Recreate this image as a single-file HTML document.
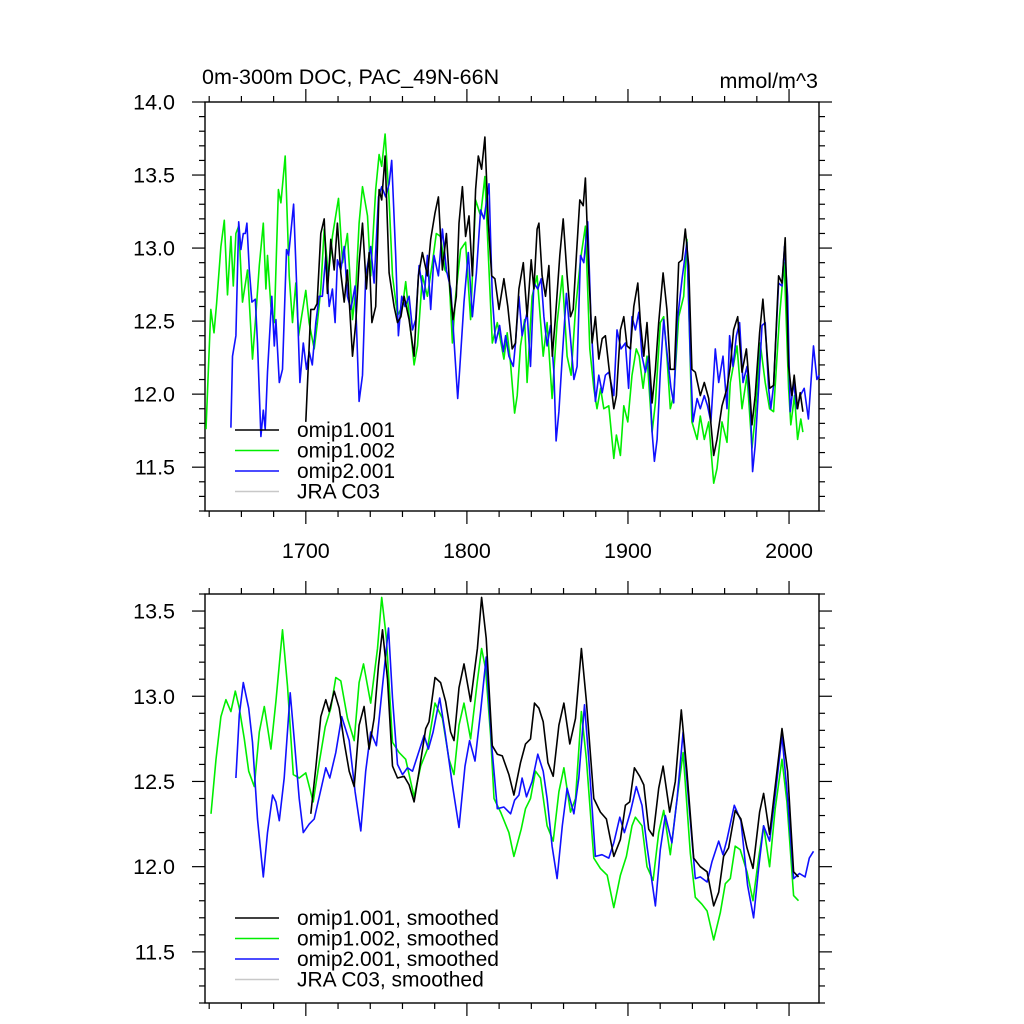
<!DOCTYPE html>
<html><head><meta charset="utf-8"><title>DOC chart</title>
<style>
html,body{margin:0;padding:0;background:#fff;}
svg{display:block;font-family:"Liberation Sans",Arial,sans-serif;}
</style></head>
<body>
<svg id="chart" width="1024" height="1024" viewBox="0 0 1024 1024" xmlns="http://www.w3.org/2000/svg">
<text x="202" y="84" font-size="21.5">0m-300m DOC, PAC_49N-66N</text>
<text x="818" y="88" font-size="21.5" text-anchor="end">mmol/m^3</text>
<g id="top"></g>
<g id="bot"></g>
</svg>
<script>
// ---------- data: top panel (annual) ----------
const topYearsGreen=[1638,1641,1643,1644.6,1647.3,1649.4,1651.4,1653.5,1655,1656.6,1658.3,1660.7,1663.8,1666.9,1668.6,1671.1,1673.6,1675.2,1676.2,1678.3,1680.4,1683,1684.5,1687.2,1689.7,1691.7,1693.8,1695.5,1697.5,1700,1702,1705.2,1707.2,1709.3,1711.4,1714,1716.5,1720.3,1722.8,1725.8,1729,1731,1733.1,1735.2,1738.3,1740.3,1743.4,1745.5,1747.1,1749.2,1751.7,1753.8,1756.9,1760,1762,1764.1,1767.2,1769.3,1772.4,1775.5,1778.6,1781,1783.7,1786.4,1788.9,1791,1793,1796.1,1799.2,1802.3,1805.4,1808.5,1811.2,1813.7,1815.8,1818.9,1823,1825,1827,1829.6,1831.2,1833.3,1835.8,1837.4,1840.5,1843.6,1847.4,1849.8,1852.9,1856,1859.2,1862.2,1864.7,1867.4,1870.5,1873.6,1876.3,1878.8,1880.8,1883,1885,1888.1,1891.2,1892.8,1895.3,1897.4,1899.9,1902.5,1905.2,1907,1909.4,1911.8,1915,1917,1920.1,1922.2,1924.2,1926.3,1928.4,1931.5,1934.6,1936.6,1939.7,1942.9,1944.9,1947.4,1950.1,1953.2,1955.3,1958.4,1961.5,1963.5,1967.7,1970.8,1973.9,1977,1979,1982.1,1985.2,1987.9,1990.4,1994.1,1997,1999.7,2001.1,2003.4,2005.3,2007.3,2008.6];
const topValsGreen=[11.76,12.58,12.42,12.62,13.01,13.19,12.68,13.08,12.74,13.10,13.15,12.63,12.85,12.24,12.49,12.88,13.17,12.72,12.95,12.6,12.49,13.4,13.31,13.63,12.81,12.49,12.76,12.4,12.54,12.71,12.49,12.31,12.49,12.72,13.13,12.81,13.08,13.34,12.90,13.1,12.51,12.72,13.17,13.42,13.22,12.81,13.4,13.64,13.56,13.78,13.33,12.81,12.54,12.6,12.77,12.54,12.2,12.33,12.81,12.67,12.9,13.1,13.08,12.85,12.81,12.35,12.67,12.99,13.04,12.51,13.33,13.22,13.49,12.85,12.35,12.49,12.24,12.42,12.22,11.87,11.99,12.33,12.51,12.08,12.67,12.81,12.26,12.49,11.97,12.49,12.81,12.26,12.13,12.58,12.92,13.15,12.31,12.04,11.9,12.04,11.9,11.92,11.56,11.72,11.58,11.92,11.81,12.13,12.31,12.26,12.04,12.26,11.74,11.94,12.49,12.53,12.26,11.9,11.99,12.53,12.67,13.06,11.81,11.69,11.85,11.69,11.81,11.39,11.49,11.81,11.67,12.08,12.33,11.9,12.13,11.63,11.85,12.35,12.08,11.9,11.88,12.53,12.9,12.04,11.79,11.99,11.69,11.83,11.74];
const topYearsBlack=[1700,1703.1,1705.2,1707,1709.3,1711.4,1713.4,1715.5,1717.6,1719.6,1721.7,1723.8,1725.8,1729,1731,1733.1,1735.2,1737.6,1739.3,1741,1743.4,1745.5,1747.1,1749.2,1751.7,1754.8,1756.9,1759,1761,1764.1,1767.2,1769.9,1772.4,1775.5,1777.5,1780.2,1782.3,1784.8,1787.3,1789.3,1791.4,1793.4,1795.1,1797.2,1799.2,1801.3,1803.4,1805.4,1807.1,1809.1,1811.2,1813.3,1815.4,1817.4,1819.9,1823,1825.4,1828.1,1830.2,1832.3,1835,1837.4,1839.9,1841.6,1843.6,1844.7,1846.7,1848.8,1850.9,1853,1855,1857.7,1859.8,1862.2,1864.3,1866,1868,1870.1,1872.2,1873.6,1875.7,1877.7,1879.8,1881.9,1884,1886,1888.1,1891.2,1892.8,1895.3,1897.4,1899.4,1901.5,1903.6,1906.1,1907.7,1909.8,1911.8,1915,1917,1919.1,1921.8,1924.2,1926.3,1928.8,1931.5,1933.6,1935.6,1937.7,1939.7,1941.8,1944.9,1947.4,1950.1,1953.2,1955.3,1958.4,1961.5,1963.5,1965.6,1968.1,1970.8,1973.5,1975.5,1977,1979,1981.7,1983.8,1985.9,1987.9,1990.4,1993.5,1995.6,1997.6,1999.7,2001.8,2003.2,2005.3,2006.9,2008.6];
const topValsBlack=[11.81,12.58,12.58,12.62,13.1,13.2,12.69,13.06,12.85,13.17,12.83,12.63,12.85,12.26,12.49,12.9,13.17,12.72,12.97,12.49,12.6,13.4,13.33,13.63,12.83,12.6,12.49,12.53,12.67,12.51,12.26,12.81,12.97,12.81,13.06,13.24,13.35,12.85,13.1,12.74,12.51,12.67,13.17,13.42,13.08,13.22,12.81,13.4,13.63,13.54,13.76,13.17,12.81,12.79,12.58,12.79,12.6,12.31,12.35,12.72,12.9,12.53,12.92,12.72,13.13,13.17,12.81,12.67,12.88,12.26,12.53,12.95,13.2,12.81,12.53,12.58,12.95,13.33,13.29,13.48,12.83,12.35,12.53,12.24,12.38,12.4,12.19,11.9,11.99,12.44,12.53,12.33,12.31,12.6,12.76,12.49,12.26,12.49,11.94,12.17,12.49,12.83,12.58,12.17,12.17,12.9,12.92,13.13,12.88,12.17,12.15,11.99,12.08,11.97,11.58,11.69,11.92,12.04,12.19,12.44,12.53,12.15,12.31,12.04,11.79,11.99,12.42,12.65,12.35,12.04,12.06,12.81,12.76,13.07,12.19,11.99,12.13,11.9,12.01,11.88];
const topYearsBlue=[1653.5,1654.5,1656.6,1658.3,1659.7,1661.2,1662.4,1663.4,1664.9,1666.5,1668.6,1670,1672.1,1673.6,1674.8,1676.2,1678.9,1680.4,1681.4,1683.5,1685.5,1688,1689.3,1692.4,1694.4,1696.3,1698.4,1700.4,1702.1,1704,1706.2,1708.3,1710.3,1712.4,1714.5,1716.5,1718.2,1719.6,1721.7,1723.8,1725.8,1727.9,1730.6,1733.1,1735.2,1737.2,1740.3,1742.4,1745.1,1747.1,1749.6,1751.7,1753.3,1755.8,1757.5,1759.5,1761.6,1764.1,1766.2,1768.2,1770.3,1773.4,1775.5,1777.5,1779.6,1782.3,1784.8,1787.3,1790,1792.6,1794.3,1795.5,1798.2,1800.9,1803.4,1805.9,1808.5,1810.6,1813.7,1815.8,1817.8,1820.3,1822.6,1824,1826.1,1828.8,1830.2,1832.3,1834.3,1837.4,1839.5,1841.6,1844,1846.1,1847.8,1849.8,1851.9,1854,1855.4,1857.1,1859.2,1861.8,1864.3,1866.4,1868.4,1870.5,1872.6,1875,1877.1,1879.8,1881.9,1884,1886,1888.1,1891.2,1893.2,1895.7,1898.4,1900.4,1902.5,1904.6,1906.7,1908.7,1910.8,1912.9,1915,1916.4,1918.1,1920.1,1922.2,1924.2,1926.7,1928.4,1930.5,1933.6,1936.6,1938.7,1940.4,1942.9,1944.9,1947.4,1949.4,1951.5,1954.2,1956.3,1959,1961.5,1963.1,1965.2,1967.3,1969.3,1971.4,1973.9,1976,1977.4,1979,1981.1,1983.2,1985.2,1987.3,1988.7,1990.4,1993.5,1995.6,1997.2,1999.1,2000.7,2002.8,2004.9,2006.9,2009.4,2012,2015.2,2017.3,2018.7];
const topValsBlue=[11.77,12.26,12.4,13.18,12.99,13.1,13.1,13.17,12.85,12.63,12.65,12.35,11.71,11.89,11.76,12.15,12.67,12.33,12.51,12.08,12.17,12.99,12.95,13.3,12.72,12.08,12.35,12.17,12.29,12.2,12.49,12.67,12.67,12.95,12.6,12.72,12.49,12.92,12.85,13.01,12.67,12.58,12.74,11.95,12.13,12.81,13.01,12.76,13.35,13.42,13.35,13.44,13.6,12.95,12.4,12.67,12.6,12.67,12.44,12.51,12.88,12.65,12.95,12.58,12.95,12.81,13.13,12.85,12.72,12.26,11.97,12.17,12.63,12.97,12.53,12.83,13.26,13.2,13.44,12.67,12.35,12.47,12.29,12.4,12.26,12.19,12.35,12.67,12.4,12.56,12.19,12.76,12.72,12.79,12.53,12.33,12.47,12.15,11.68,11.88,12.26,12.69,12.38,12.1,12.19,12.95,12.9,13.18,12.49,11.95,12.13,12.01,12.13,12.15,11.99,12.44,12.31,12.35,12.04,12.53,12.44,12.56,12.26,12.15,12.26,11.74,11.54,11.69,12.15,12.51,12.29,12.04,11.94,12.49,12.79,13.04,12.26,11.81,11.97,11.9,11.99,11.92,11.81,12.31,12.08,12.26,11.9,12.4,12.19,12.4,12.49,12.08,12.19,11.92,11.47,11.65,12.04,12.47,12.49,12.04,11.9,12.06,12.76,12.74,13.01,12.67,11.88,12.08,11.9,11.99,12.04,11.83,12.33,12.1,12.13];
// ---------- data: bottom panel (smoothed) ----------
const botYearsGreen=[1641.1,1644.2,1647.3,1650.4,1653.5,1656.2,1658.7,1661.8,1664.5,1668,1671.1,1674.2,1678.3,1681.4,1685.5,1688.6,1692.2,1695.9,1700,1704.6,1708.3,1712,1715.5,1718.6,1721.7,1725.9,1730,1733.1,1735.8,1740.3,1744.5,1747.1,1750,1753.8,1757.9,1762,1767.2,1771.3,1775.5,1780.2,1784.8,1788.9,1792,1795.1,1798.2,1802.3,1806.5,1809.1,1811.6,1814.7,1816.8,1820.9,1826.1,1829.2,1833.7,1836.4,1839.5,1842.6,1845.7,1849.8,1853.6,1857.1,1860.2,1864.3,1867.4,1871.1,1874.2,1878.8,1882.9,1887.1,1891.2,1895.3,1899,1902.5,1904.6,1908.7,1911.8,1915.6,1919.1,1922.2,1926.3,1930,1934.2,1938.7,1941.8,1945.9,1949.1,1953.2,1957.3,1960.4,1963.5,1966.6,1969.7,1973.9,1977.6,1981.1,1984.2,1987.9,1991.4,1995.6,1998.7,2002.8,2005.9];
const botValsGreen=[12.31,12.63,12.88,12.98,12.91,13.03,12.93,12.75,12.56,12.47,12.79,12.94,12.69,12.97,13.39,13.06,12.54,12.52,12.55,12.38,12.61,12.82,12.93,13.11,13.09,12.87,12.74,13.08,13.19,12.96,13.28,13.58,13.34,12.73,12.67,12.63,12.41,12.59,12.69,12.96,12.87,12.63,12.54,12.83,12.96,12.75,13.09,13.28,13.16,12.77,12.40,12.32,12.2,12.06,12.22,12.34,12.4,12.56,12.52,12.24,12.15,12.44,12.58,12.32,12.40,12.91,12.63,12.05,11.99,11.95,11.76,11.95,12.06,12.24,12.29,12.24,12.0,11.92,12.2,12.33,12.07,12.36,12.67,12.08,11.82,11.78,11.74,11.57,11.73,11.9,11.93,12.12,12.1,11.97,11.8,12.05,12.24,12.0,12.34,12.63,12.38,11.83,11.80];
const botYearsBlack=[1703.1,1706.2,1709.3,1712.4,1714.5,1717.6,1720.7,1723.8,1726.9,1730,1733.1,1736.2,1739.3,1742.4,1745.1,1747.6,1750.7,1753.8,1756.9,1761,1764.1,1767.2,1770.3,1774.4,1776.5,1780.2,1783.7,1786.8,1789.9,1792,1795.1,1798.2,1802.3,1806.5,1809.1,1812,1815.8,1818.9,1822,1826.1,1829.2,1833.3,1836.4,1839.5,1842,1844.7,1847.4,1850.3,1853.6,1857.1,1860.2,1863.9,1867.4,1871.1,1874.2,1878.8,1882.9,1886.6,1891.2,1895.3,1898.4,1901.1,1904,1907.3,1909.8,1912.9,1915.6,1919.1,1921.8,1925.9,1929.4,1933.1,1936.6,1940.8,1944.9,1949.1,1953.2,1956.3,1959.4,1962.5,1966.6,1970.1,1973.9,1977.6,1981.7,1984.2,1987.9,1992,1995.6,1999.1,2002.8,2005.9];
const botValsBlack=[12.31,12.58,12.88,12.98,12.91,13.03,12.93,12.73,12.56,12.47,12.83,12.94,12.69,12.87,13.18,13.39,13.10,12.59,12.52,12.53,12.48,12.38,12.56,12.81,12.85,13.11,13.08,12.97,12.79,12.74,13.05,13.19,12.97,13.28,13.58,13.34,12.71,12.66,12.65,12.54,12.42,12.61,12.72,12.75,12.96,12.93,12.85,12.61,12.53,12.83,12.96,12.72,12.87,13.28,12.97,12.40,12.32,12.28,12.06,12.16,12.36,12.38,12.58,12.53,12.48,12.22,12.18,12.46,12.59,12.32,12.5,12.92,12.56,12.05,12.0,11.97,11.77,11.85,12.06,12.11,12.33,12.28,12.11,11.99,12.32,12.43,12.19,12.52,12.81,12.56,11.97,11.94];
const botYearsBlue=[1656.6,1658.7,1661.2,1664.5,1666.9,1670,1673.6,1676.2,1679.4,1681.4,1683.5,1686.6,1690.3,1692.8,1695.9,1698.4,1702.1,1705.2,1709.3,1712.4,1714.9,1718.6,1722.3,1726.9,1730.6,1734.1,1737.2,1740.3,1743.8,1747.6,1751.3,1753.8,1756.9,1760,1763.1,1766.2,1769.3,1773.4,1776.1,1779,1783.1,1786.4,1791,1795.1,1798.8,1801.7,1805,1808.5,1812,1815.4,1818.9,1823,1827.1,1829.6,1832.3,1834.3,1837,1840.5,1844,1847.4,1849.8,1852.9,1856,1859.2,1862.2,1866.4,1869.5,1873,1875.7,1879.8,1883.9,1888.1,1891.2,1894.9,1897.8,1901.5,1905.2,1908.7,1911.8,1917,1920.1,1923.2,1927.3,1930.5,1934.2,1937.7,1941.8,1944.9,1949.1,1952.2,1956.3,1959,1961.5,1966,1970.1,1974.3,1978,1981.1,1984.2,1987.9,1991.4,1995.6,1999.1,2002.8,2006.5,2010,2012.6,2015.2];
const botValsBlue=[12.52,12.89,13.08,12.93,12.73,12.28,11.94,12.20,12.42,12.38,12.27,12.52,13.02,12.75,12.4,12.2,12.25,12.28,12.45,12.58,12.52,12.67,12.88,12.74,12.44,12.21,12.56,12.79,12.71,13.06,13.40,12.99,12.6,12.54,12.58,12.56,12.65,12.77,12.69,12.79,12.99,12.79,12.48,12.23,12.59,12.74,12.62,12.91,13.23,12.71,12.34,12.35,12.31,12.39,12.42,12.52,12.41,12.5,12.66,12.56,12.4,12.12,11.93,12.24,12.46,12.31,12.52,12.95,12.63,12.06,12.07,12.05,12.14,12.29,12.2,12.32,12.47,12.36,12.12,11.77,12.1,12.3,12.14,12.4,12.79,12.38,11.93,11.94,11.91,12.03,12.15,12.07,12.16,12.36,12.27,11.89,11.7,11.99,12.24,12.15,12.42,12.77,12.4,11.93,11.96,11.94,12.05,12.09];
const xTickYears=[1700,1800,1900,2000];
const topYTicks=["11.5","12.0","12.5","13.0","13.5","14.0"];
const botYTicks=["11.5","12.0","12.5","13.0","13.5"];
const topLegend=["omip1.001","omip1.002","omip2.001","JRA C03"];
const botLegend=["omip1.001, smoothed","omip1.002, smoothed","omip2.001, smoothed","JRA C03, smoothed"];
const colors=["#000000","#00ee00","#1010ff","#c8c8c8"];

const NS="http://www.w3.org/2000/svg";
function mk(parent,tag,attrs){const e=document.createElementNS(NS,tag);for(const k in attrs)e.setAttribute(k,attrs[k]);parent.appendChild(e);return e;}
const X0=205,X1=819,YR0=1637.4,YR1=2018.6;
function xs(yr){return X0+(yr-YR0)/(YR1-YR0)*(X1-X0);}

function panel(g,top,bottom,vmin,vmax,yticks,series,legend,legY,showX,prefix){
  const ys=v=>bottom-(v-vmin)/(vmax-vmin)*(bottom-top);
  const ax=mk(g,'g',{stroke:'#000','stroke-width':1.2,fill:'none'});
  
  
  const fr=mk(ax,'rect',{x:X0,y:top,width:X1-X0,height:bottom-top,'stroke-width':1.4});
  
  
  for(let yr=1640;yr<=2018;yr+=20){
    const x=xs(yr),maj=yr%100===0,L=maj?13:6;
    mk(ax,'line',{x1:x,y1:bottom,x2:x,y2:bottom+L});
    mk(ax,'line',{x1:x,y1:top,x2:x,y2:top-L});
  }
  for(let i=Math.ceil(vmin*10);i<=Math.floor(vmax*10+0.001);i++){
    const y=ys(i/10),maj=i%5===0,L=maj?13:6;
    mk(ax,'line',{x1:X0,y1:y,x2:X0-L,y2:y});
    mk(ax,'line',{x1:X1,y1:y,x2:X1+L,y2:y});
  }
  yticks.forEach(t=>{
    const tx=mk(g,'text',{x:175,y:ys(parseFloat(t))+7.5,'font-size':21.5,'text-anchor':'end'});
    tx.textContent=t;
    
    
  });
  if(showX){xTickYears.forEach(yr=>{
    const tx=mk(g,'text',{x:xs(yr),y:558,'font-size':21.5,'text-anchor':'middle'});
    tx.textContent=String(yr);
    
    
  });}
  series.forEach((s,i)=>{
    const d=s.yrs.map((yr,j)=>(j?'L':'M')+xs(yr).toFixed(1)+' '+ys(s.vals[j]).toFixed(1)).join(' ');
    const p=mk(g,'path',{d:d,fill:'none',stroke:s.color,'stroke-width':1.6,'stroke-linejoin':'round'});
    
    
  });
  legend.forEach((t,i)=>{
    const y=legY+i*20.5;
    const lg=mk(g,'g',{});
    
    
    mk(lg,'line',{x1:235,y1:y,x2:279,y2:y,stroke:colors[i],'stroke-width':1.6});
    const tx=mk(lg,'text',{x:297,y:y+7,'font-size':21});
    tx.textContent=t;
  });
}
panel(document.getElementById('top'),102,511,11.2,14.0,topYTicks,[
  {name:'omip1-002',color:colors[1],yrs:topYearsGreen,vals:topValsGreen},
  {name:'omip2-001',color:colors[2],yrs:topYearsBlue,vals:topValsBlue},
  {name:'omip1-001',color:colors[0],yrs:topYearsBlack,vals:topValsBlack}
],topLegend,430,true,'top');
panel(document.getElementById('bot'),594,1003,11.2,13.6,botYTicks,[
  {name:'omip1-002',color:colors[1],yrs:botYearsGreen,vals:botValsGreen},
  {name:'omip2-001',color:colors[2],yrs:botYearsBlue,vals:botValsBlue},
  {name:'omip1-001',color:colors[0],yrs:botYearsBlack,vals:botValsBlack}
],botLegend,918,false,'bottom');
</script>
</body></html>
